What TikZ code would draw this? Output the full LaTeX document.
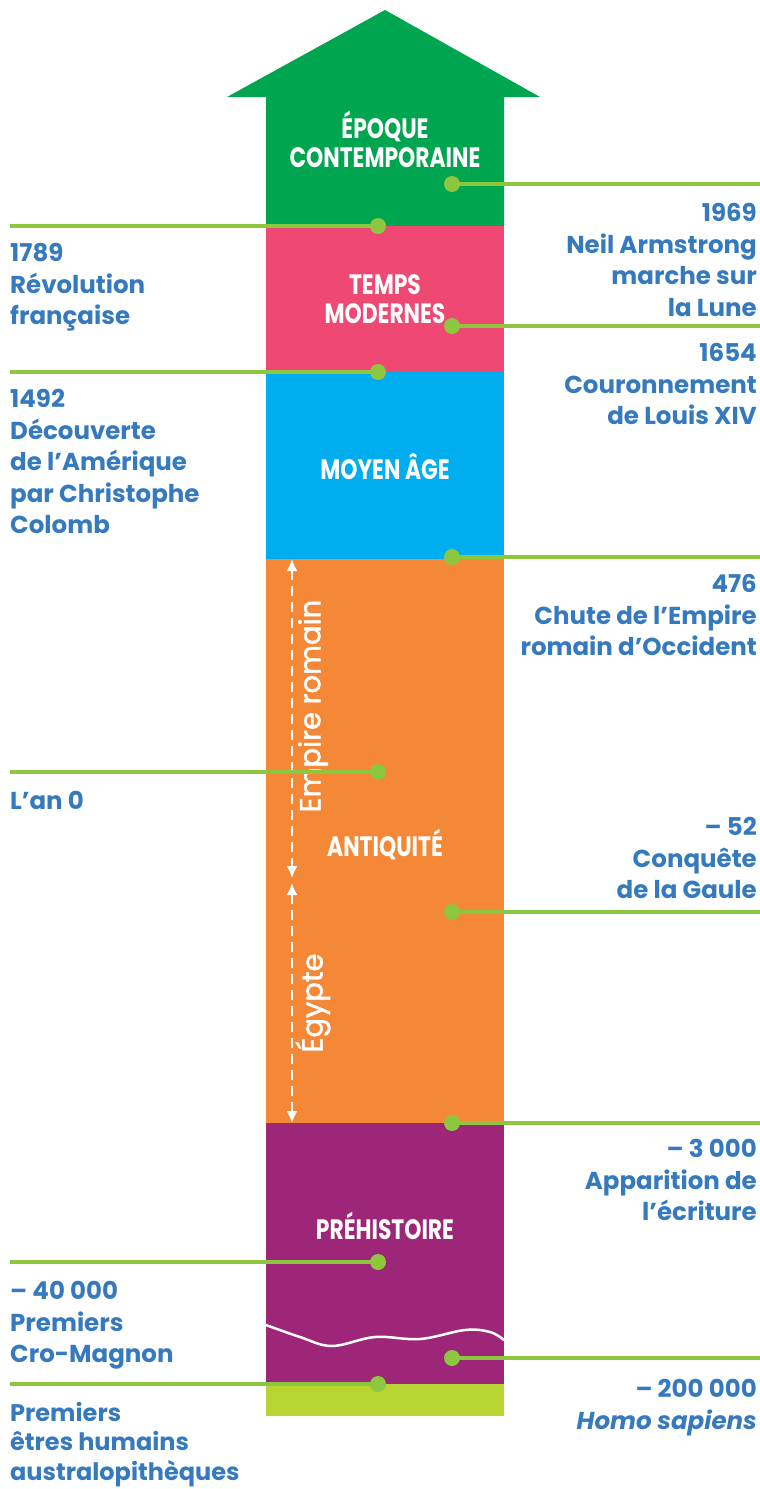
\documentclass[tikz,border=0pt]{standalone}
\usepackage{fontspec}
\setmainfont{Poppins}
\newfontfamily\titlefont[FakeStretch=0.78]{Poppins}
\newfontfamily\vfont[FakeBold=1.6]{Poppins}
\usetikzlibrary{arrows.meta}
\definecolor{cgreen}{HTML}{00A54F}
\definecolor{cpink}{HTML}{EF4873}
\definecolor{cblue}{HTML}{00AEEF}
\definecolor{corange}{HTML}{F58837}
\definecolor{cpurple}{HTML}{9D2679}
\definecolor{clime}{HTML}{B8D432}
\definecolor{cconn}{HTML}{8DC63F}
\definecolor{ctext}{HTML}{3579BE}
\tikzset{
  conn/.style={draw=cconn, line width=3.5pt},
  dot/.style={circle, fill=cconn, minimum size=16pt, inner sep=0pt},
  lbl/.style={text=ctext, inner sep=0pt, font=\fontsize{24.5}{31.6}\selectfont\bfseries},
  lblr/.style={lbl, anchor=north east, align=right},
  lbll/.style={lbl, anchor=north west, align=left},
  ttl/.style={text=white, inner sep=0pt, align=center, font=\titlefont\fontsize{28}{29}\selectfont\bfseries},
  span/.style={draw=white, line width=2pt, dash pattern=on 10pt off 6pt, {Latex[length=12pt,width=11pt]}-{Latex[length=12pt,width=11pt]}},
  vlbl/.style={text=white, rotate=90, inner sep=0pt, font=\vfont\fontsize{29}{30}\selectfont}
}
\begin{document}
\begin{tikzpicture}[x=1pt,y=-1pt]
\useasboundingbox (0,0) rectangle (760,1489);
% bands
\fill[cgreen] (385,10) -- (540,97) -- (504,97) -- (504,226) -- (266,226) -- (266,97) -- (227,97) -- cycle;
\fill[cpink] (266,226) rectangle (504,372);
\fill[cblue] (266,372) rectangle (504,559);
\fill[corange] (266,559) rectangle (504,1123);
\fill[cpurple] (266,1123) rectangle (504,1384);
\fill[clime] (266,1384) rectangle (504,1416);
% wave
\draw[white, line width=2.5pt, line cap=round] plot[smooth, tension=0.6] coordinates {(266,1325) (300,1337) (332,1346) (375,1337) (420,1339) (465,1330) (490,1332) (504,1340)};
% titles
\node[ttl] (tEpo) at (385,139) {ÉPOQUE\\CONTEMPORAINE};
\node[ttl] (tTem) at (385,299) {TEMPS\\MODERNES};
\node[ttl] (tMoy) at (385,466) {MOYEN ÂGE};
\node[ttl] (tAnt) at (385,845) {ANTIQUITÉ};
\node[ttl] (tPre) at (385,1226) {PRÉHISTOIRE};
% spans
\coordinate (sA) at (292,559);
\coordinate (sB) at (292,878);
\coordinate (sC) at (292,883);
\coordinate (sD) at (292,1123);
\draw[span] (sA) -- (sB);
\draw[span] (sC) -- (sD);
\node[vlbl] (vEmp) at (313,706) {Empire romain};
\node[vlbl] (vEgy) at (313,1003) {Égypte};
% connectors
\coordinate (eR1) at (760,184);  \draw[conn] (eR1) -- (452,184) node[dot] (dR1) {};
\coordinate (eL1) at (10,226);   \draw[conn] (eL1) -- (378,226) node[dot] (dL1) {};
\coordinate (eR2) at (760,326);  \draw[conn] (eR2) -- (452,326) node[dot] (dR2) {};
\coordinate (eL2) at (10,372);   \draw[conn] (eL2) -- (378,372) node[dot] (dL2) {};
\coordinate (eR3) at (760,557);  \draw[conn] (eR3) -- (452,557) node[dot] (dR3) {};
\coordinate (eL3) at (10,772);   \draw[conn] (eL3) -- (378,772) node[dot] (dL3) {};
\coordinate (eR4) at (760,912);  \draw[conn] (eR4) -- (452,912) node[dot] (dR4) {};
\coordinate (eR5) at (760,1123); \draw[conn] (eR5) -- (452,1123) node[dot] (dR5) {};
\coordinate (eL4) at (10,1262);  \draw[conn] (eL4) -- (378,1262) node[dot] (dL4) {};
\coordinate (eR6) at (760,1358); \draw[conn] (eR6) -- (452,1358) node[dot] (dR6) {};
\coordinate (eL5) at (10,1384);  \draw[conn] (eL5) -- (378,1384) node[dot] (dL5) {};
% labels right
\node[lblr] (lR1) at (757,203) {1969\\Neil Armstrong\\marche sur\\la Lune};
\node[lblr] (lR2) at (757,343) {1654\\Couronnement\\de Louis XIV};
\node[lblr] (lR3) at (757,574) {476\\Chute de l’Empire\\romain d’Occident};
\node[lblr] (lR4) at (757,817) {– 52\\Conquête\\de la Gaule};
\node[lblr] (lR5) at (757,1139) {– 3 000\\Apparition de\\l’écriture};
\node[lblr] (lR6) at (757,1379) {– 200 000\\\textit{Homo sapiens}};
% labels left
\node[lbll] (lL1) at (10,243) {1789\\Révolution\\française};
\node[lbll] (lL2) at (10,389) {1492\\Découverte\\de l’Amérique\\par Christophe\\Colomb};
\node[lbll] (lL3) at (10,791) {L’an 0};
\node[lbll] (lL4) at (10,1281) {– 40 000\\Premiers\\Cro-Magnon};
\node[lbll, font=\fontsize{24}{29.5}\selectfont\bfseries] (lL5) at (10,1402) {Premiers\\êtres humains\\australopithèques};
\end{tikzpicture}
\end{document}
